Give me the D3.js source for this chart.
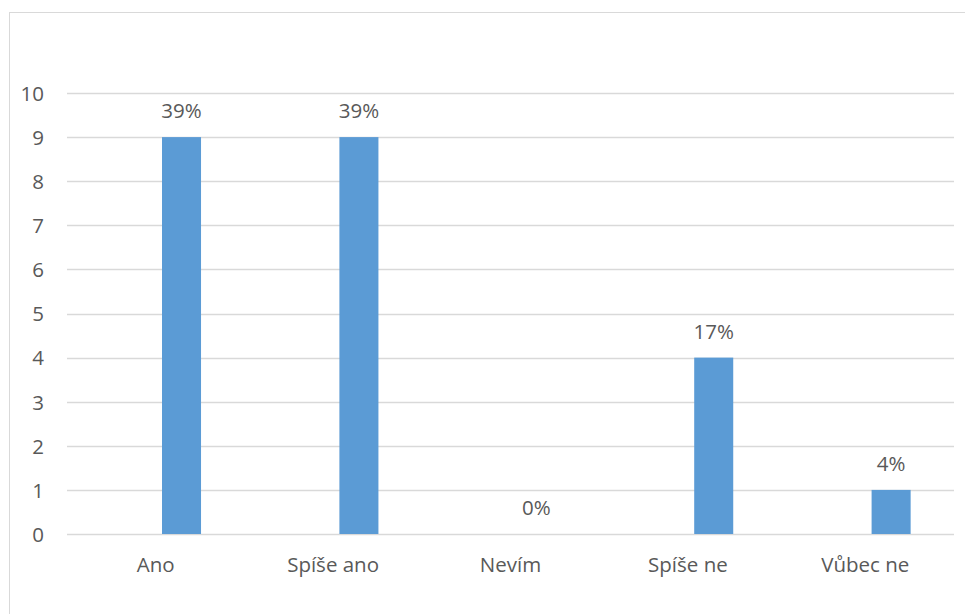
<!DOCTYPE html>
<html>
<head>
<meta charset="utf-8">
<script src="https://cdn.jsdelivr.net/npm/d3@7/dist/d3.min.js"></script>
<style>
  html, body { margin: 0; padding: 0; background: #fff; }
  svg text { font-family: "Open Sans", "Noto Sans", "Liberation Sans", sans-serif; fill: #595959; }
</style>
</head>
<body>
<svg id="chart" width="965" height="614"></svg>
<script>
// Answer categories and number of responses
const categories = ["Ano", "Spíše ano", "Nevím", "Spíše ne", "Vůbec ne"];
const counts = [9, 9, 0, 4, 1];
// Share of all responses, shown above each column
const shares = ["39%", "39%", "0%", "17%", "4%"];
const yTicks = [0, 1, 2, 3, 4, 5, 6, 7, 8, 9, 10];
// Series slots within a category (first slot is empty)
const seriesSlots = ["blank", "count"];

const fontSize = "20.5px";
const svg = d3.select("#chart");

// Chart area frame
svg.append("rect")
  .attr("x", 9.5).attr("y", 12.5)
  .attr("width", 1000).attr("height", 700)
  .attr("fill", "none").attr("stroke", "#d9d9d9").attr("stroke-width", 1);

const plot = { left: 67, right: 954, top: 93, bottom: 534 };

const x = d3.scaleBand().domain(categories).range([plot.left, plot.right]).padding(0);
const xs = d3.scaleBand().domain(seriesSlots).range([0, x.bandwidth()])
  .paddingInner(0.244).paddingOuter(0.84);
const y = d3.scaleLinear().domain([0, 10]).range([plot.bottom, plot.top]);

// Horizontal gridlines
svg.append("g").selectAll("line").data(yTicks).join("line")
  .attr("x1", plot.left).attr("x2", plot.right)
  .attr("y1", d => Math.round(y(d)) + 0.5).attr("y2", d => Math.round(y(d)) + 0.5)
  .attr("stroke", "#d9d9d9").attr("stroke-width", 1.3);

// Y axis labels
const yAxis = d3.axisLeft(y).tickValues(yTicks).tickSize(0).tickPadding(0);
const gy = svg.append("g").attr("transform", `translate(44,0)`).call(yAxis);
gy.select(".domain").remove();
gy.selectAll("text").style("font-size", fontSize).attr("fill", "#595959").attr("dy", "0.36em");

// Columns
svg.append("g").selectAll("rect").data(counts).join("rect")
  .attr("x", (d, i) => x(categories[i]) + xs("count"))
  .attr("width", xs.bandwidth())
  .attr("y", d => y(d))
  .attr("height", d => y(0) - y(d))
  .attr("fill", "#5b9bd5");

// Data labels
svg.append("g").selectAll("text").data(counts).join("text")
  .attr("x", (d, i) => x(categories[i]) + xs("count") + xs.bandwidth() / 2)
  .attr("y", d => y(d) - 19)
  .attr("text-anchor", "middle")
  .style("font-size", fontSize)
  .text((d, i) => shares[i]);

// Category labels
const xAxis = d3.axisBottom(x).tickSize(0).tickPadding(0);
const gx = svg.append("g").attr("transform", `translate(0,${plot.bottom + 38})`).call(xAxis);
gx.select(".domain").remove();
gx.selectAll("text").style("font-size", fontSize).attr("fill", "#595959").attr("dy", "0");
</script>
</body>
</html>
